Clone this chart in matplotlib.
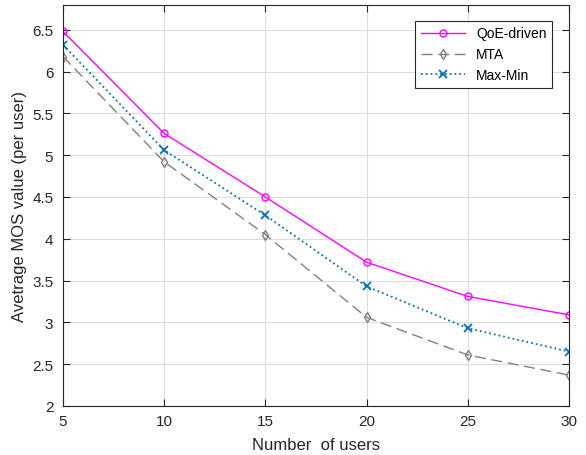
import matplotlib
matplotlib.use("Agg")
import matplotlib.pyplot as plt

plt.rcParams['font.family'] = ['Liberation Sans', 'DejaVu Sans']

users = [5, 10, 15, 20, 25, 30]
qoe_driven = [6.48, 5.26, 4.50, 3.72, 3.31, 3.09]
mta = [6.18, 4.92, 4.05, 3.06, 2.61, 2.37]
max_min = [6.32, 5.06, 4.28, 3.43, 2.93, 2.65]

fig = plt.figure(figsize=(5.86, 4.56), dpi=100)
ax = fig.add_axes([0.1075, 0.1075, 0.8635, 0.88])

ax.plot(users, qoe_driven, '-o', color='#FF00FF', lw=1.0, ms=5,
        mfc='none', mew=1.0, label='QoE-driven')
ax.plot(users, mta, '--d', color='#808080', lw=1.0, ms=5,
        mfc='none', mew=1.0, dashes=(8, 4), label='MTA')
ax.plot(users, max_min, ':x', color='#0072BD', lw=1.3, ms=6,
        mew=1.3, label='Max-Min')

ax.set_xlim(5, 30)
ax.set_ylim(2, 6.8)
ax.set_xticks([5, 10, 15, 20, 25, 30])
ax.set_yticks([2, 2.5, 3, 3.5, 4, 4.5, 5, 5.5, 6, 6.5])
ax.set_yticklabels(['2', '2.5', '3', '3.5', '4', '4.5', '5', '5.5', '6', '6.5'])
ax.grid(True, color='#DDDDDD', lw=0.8)
ax.set_axisbelow(True)
ax.tick_params(direction='in', top=True, right=True, labelsize=11,
               length=5, color='#262626', labelcolor='#262626')
ax.tick_params(axis='y', pad=7)
ax.tick_params(axis='x', pad=6)
for s in ax.spines.values():
    s.set_color('#262626')
    s.set_linewidth(0.8)

ax.set_xlabel('Number  of users', fontsize=12, color='#262626', labelpad=6)
ax.set_ylabel('Avetrage MOS value (per user)', fontsize=12, color='#262626',
              labelpad=4)

leg = ax.legend(loc='upper right', bbox_to_anchor=(0.975, 0.97), fontsize=10,
                fancybox=False, edgecolor='#262626', framealpha=1,
                handlelength=3.2, borderaxespad=0.3)
leg.get_frame().set_linewidth(0.8)

fig.savefig('out.png', dpi=100)
